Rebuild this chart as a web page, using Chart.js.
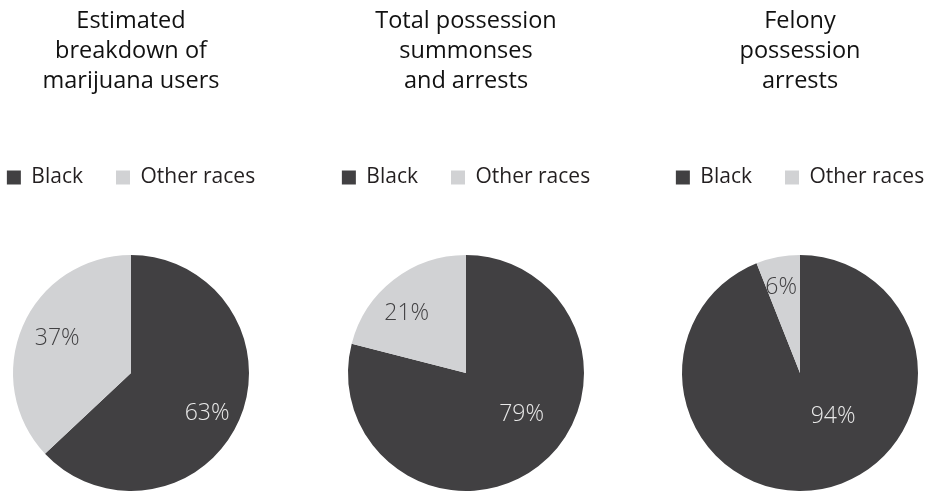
<!DOCTYPE html>
<html>
<head>
<meta charset="utf-8">
<script src="https://cdn.jsdelivr.net/npm/chart.js@4/dist/chart.umd.min.js"></script>
<style>
  html, body { margin: 0; padding: 0; background: #fff; overflow: hidden; width: 927px; height: 492px; }
  .pie { position: absolute; top: 0; width: 330px; height: 548px; }
</style>
</head>
<body>
<div class="pie" style="left:-34px"><canvas id="c1"></canvas></div>
<div class="pie" style="left:301px"><canvas id="c2"></canvas></div>
<div class="pie" style="left:635px"><canvas id="c3"></canvas></div>
<script>
const categories = ['Black', 'Other races'];
const usersShare = [63, 37];
const summonsShare = [79, 21];
const felonyShare = [94, 6];
const titles = [
    ['Estimated', 'breakdown of', 'marijuana users'],
    ['Total possession', 'summonses', 'and arrests'],
    ['Felony', 'possession', 'arrests']
];

const colors = ['#414042', '#d1d2d4'];
const labelColors = ['#e9e9e9', '#414042'];
const font = "'Open Sans', 'DejaVu Sans', sans-serif";

// draws the % text inside each slice, at [angle from top in degrees, fraction of radius]
const pctLabels = {
    id: 'pctLabels',
    afterDatasetsDraw(chart, args, opts) {
        const ctx = chart.ctx;
        const meta = chart.getDatasetMeta(0);
        const values = chart.data.datasets[0].data;
        ctx.save();
        ctx.font = '300 23px ' + font;
        ctx.textAlign = 'center';
        ctx.textBaseline = 'middle';
        meta.data.forEach((arc, i) => {
            const p = opts.place[i];
            const a = (p[0] - 90) * Math.PI / 180;
            const r = arc.outerRadius * p[1];
            ctx.fillStyle = labelColors[i];
            ctx.fillText(values[i] + '%', arc.x + Math.cos(a) * r, arc.y + Math.sin(a) * r);
        });
        ctx.restore();
    }
};

function makePie(id, values, title, place) {
    new Chart(document.getElementById(id), {
        type: 'pie',
        data: {
            labels: categories,
            datasets: [{
                data: values,
                backgroundColor: colors,
                borderWidth: 0,
                radius: 118
            }]
        },
        options: {
            responsive: true,
            maintainAspectRatio: false,
            animation: false,
            plugins: {
                title: {
                    display: true,
                    text: title,
                    color: '#111111',
                    font: { family: font, size: 23.5, weight: 'normal', lineHeight: '30px' },
                    padding: { top: 6, bottom: 38 }
                },
                legend: {
                    labels: {
                        color: '#231f20',
                        font: { family: font, size: 21 },
                        boxWidth: 14,
                        boxHeight: 14,
                        padding: 33
                    }
                },
                tooltip: { enabled: false },
                pctLabels: { place: place }
            }
        },
        plugins: [pctLabels]
    });
}

makePie('c1', usersShare, titles[0], [[118, 0.73], [295, 0.69]]);
makePie('c2', summonsShare, titles[1], [[127, 0.59], [315, 0.71]]);
makePie('c3', felonyShare, titles[2], [[142.5, 0.46], [347.5, 0.74]]);
</script>
</body>
</html>
